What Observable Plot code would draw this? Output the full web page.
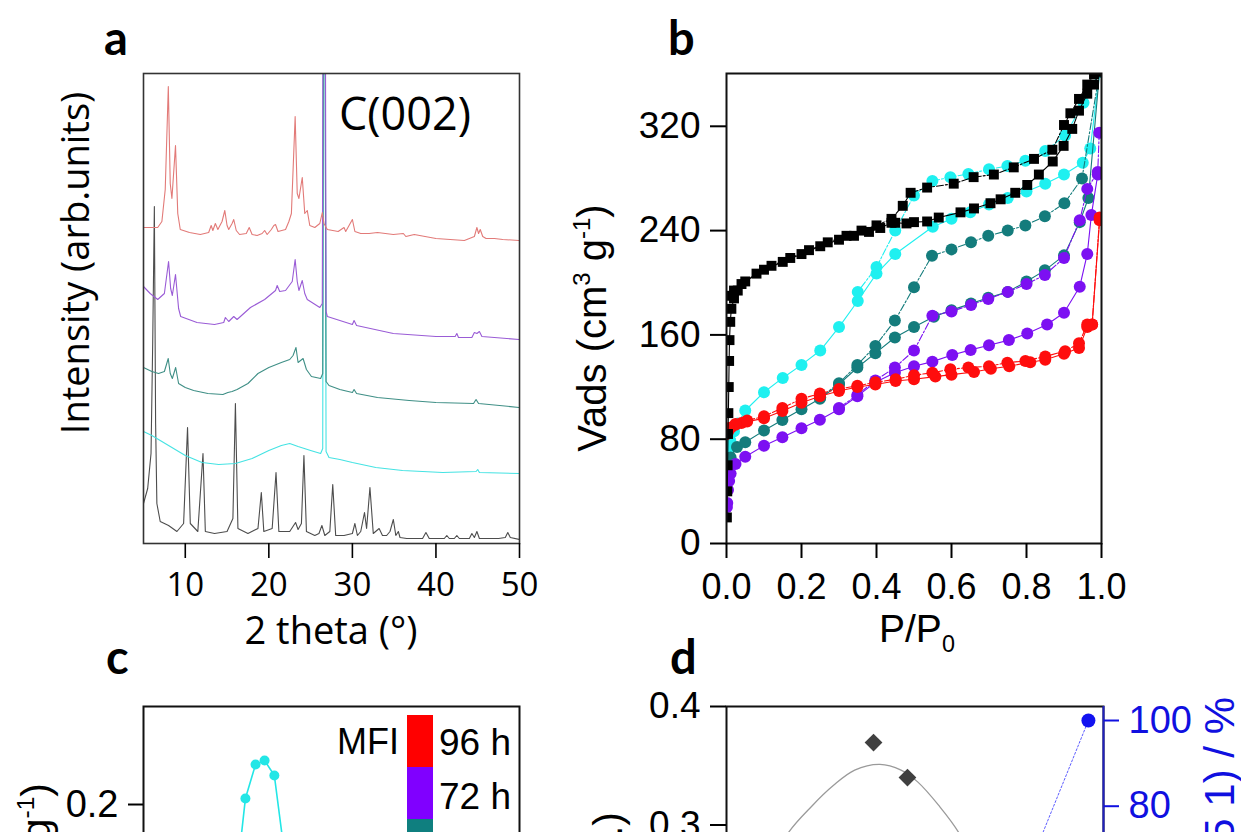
<!DOCTYPE html>
<html><head><meta charset="utf-8">
<script src="https://cdn.jsdelivr.net/npm/d3@7"></script>
<script src="https://cdn.jsdelivr.net/npm/@observablehq/plot@0.6"></script>
<style>
html,body{margin:0;padding:0;background:#fff;width:1241px;height:832px;overflow:hidden;position:relative;}
.panel{position:absolute;}
#overlay{position:absolute;left:0;top:0;}
</style></head><body>
<div id="pa" class="panel" style="left:0;top:0"></div>
<div id="pb" class="panel" style="left:560px;top:0"></div>
<div id="pc" class="panel" style="left:0;top:640px"></div>
<div id="pd" class="panel" style="left:580px;top:640px"></div>
<div id="pd2" class="panel" style="left:580px;top:640px"></div>
<svg id="overlay" width="1241" height="832"></svg>
<script>
// ---------- Panel a : XRD patterns (2 theta, offset intensity) ----------
const xrdBlackX = [5.0,5.5,5.9,6.1,6.3,6.45,6.6,7.0,8.0,9.0,9.8,10.27,10.6,11.5,12.12,12.4,13.5,15.0,15.7,16.0,16.3,17.5,18.7,19.1,19.4,20.4,20.86,21.2,22.5,23.2,23.5,23.9,24.2,24.5,25.5,26.0,26.35,26.7,27.3,27.65,28.0,29.0,30.0,30.3,30.6,31.0,31.45,31.7,32.1,32.5,33.2,33.6,34.1,34.5,34.9,35.2,35.5,35.7,36.5,38.4,38.8,39.2,41.0,41.3,41.6,42.2,42.5,42.8,44.0,44.3,44.6,44.9,45.2,47.5,48.3,48.6,48.9,50.0];
const xrdBlackY = [40,55,90,200,337,120,40,22,18,12,20,116,20,12,90,12,10,12,25,140,15,10,15,51,12,15,71,12,12,21,14,20,88,12,8,10,18,8,12,59,8,8,10,20,8,12,31,15,56,10,15,8,8,12,24,8,12,6,5,5,11,5,5,8,5,5,8,5,5,10,6,12,5,5,6,11,6,4];
const xrdCyanX = [5.0,6,8,10,12,14,16,18,20,21.5,22.5,23.5,25,26.2,26.45,26.55,26.7,26.85,27.2,28.5,30,32.8,36,40.8,44.8,45.0,45.2,50];
const xrdCyanY = [112,108,98,88,81,79,80,85,93,98,100,97,93,90,95,600,600,92,86,84,81,76,73,71,72,74,71,70];
const xrdTealX = [5.0,6.0,6.8,7.5,7.96,8.2,8.45,8.85,9.2,10,11,12.7,14.5,15.1,15.6,16.2,17.5,18.7,20,21.5,22.5,22.9,23.25,23.5,24.1,24.5,25.1,26.2,26.45,26.55,26.7,26.85,27.2,28.5,30.0,30.2,30.5,33,36.8,40,44.5,44.8,45.1,50];
const xrdTealY = [176,172,170,172,185,170,165,176,160,156,153,150,149,151,152,154,160,170,176,181,184,188,196,181,185,174,167,165,170,600,600,162,158,154,151,154,150,146,143,141,140,144,140,136];
const xrdPurpleX = [5.0,5.8,6.7,7.5,8.0,8.25,8.45,8.83,9.2,9.45,11.4,13.5,14.6,14.8,15.2,15.8,16.2,17.8,19.5,20.8,21.0,21.3,22.0,22.8,23.15,23.4,23.6,24.0,24.3,24.6,26.1,26.4,26.5,26.75,26.85,27.0,28.5,30.0,30.2,30.5,34.9,40,42.3,42.5,42.7,44.3,44.6,44.9,45.2,45.5,50];
const xrdPurpleY = [257,250,244,250,282,255,248,269,235,227,221,219,221,226,222,227,224,236,244,253,258,252,253,262,284,262,253,263,250,244,236,240,600,600,232,227,223,219,223,218,210,207,207,210,206,206,211,210,212,207,204];
const xrdRedX = [5.0,6.7,7.2,7.6,7.97,8.2,8.4,8.83,9.1,9.4,10.5,11.8,12.8,13.1,13.3,13.6,13.9,14.4,14.73,15.0,15.2,15.6,15.8,16.1,16.5,17.3,17.65,18.0,18.6,19.2,19.5,19.8,20.3,20.6,20.8,21.1,22.0,22.4,22.7,23.15,23.4,23.6,24.0,24.3,24.6,24.9,25.5,26.1,26.4,26.6,27.0,28.3,29.0,29.2,29.6,30.0,30.3,31,32,33,34.9,36.1,36.4,37.4,40,43.4,44.6,44.9,45.1,45.3,45.6,46.0,47,48,50];
const xrdRedY = [316,316,322,354,457,360,345,398,330,314,311,309,311,318,313,320,314,322,333,318,314,320,324,313,309,310,316,309,308,310,313,309,314,318,319,312,314,322,330,427,350,345,366,330,333,318,316,320,331,320,314,312,316,312,318,324,312,310,310,311,309,310,307,309,305,303,307,316,310,314,307,305,305,304,303];
const xrdColors = {black:"#4d4d4d", cyan:"#45e3e3", teal:"#3f8f86", purple:"#9a5cd6", red:"#e27a78"};
const xTicksA = [10,20,30,40,50];

// ---------- Panel b : N2 isotherms (P/P0, Vads) ----------
const blackAdsP = [0.001,0.002,0.003,0.004,0.005,0.006,0.007,0.008,0.01,0.013,0.02,0.03,0.05,0.1,0.15,0.2,0.25,0.3,0.34,0.38,0.41,0.44,0.45,0.48,0.5,0.535,0.566,0.624,0.66,0.704,0.731,0.77,0.802,0.833,0.87,0.899,0.922,0.94,0.962,0.98,0.995];
const blackAdsV = [20,40,60,84,100,120,140,156,170,180,188,194,201,210,216,222,228,233,236,239,242,246,246,245.5,246.5,247,250,254,257,261,264,269,275,283,293,305,318,332,345,352,362];
const blackDesP = [0.995,0.98,0.962,0.94,0.917,0.9,0.869,0.82,0.766,0.713,0.659,0.606,0.535,0.491,0.47,0.44,0.4,0.36,0.32,0.27,0.22,0.17,0.12,0.08,0.04,0.02,0.012];
const blackDesV = [362,360,352,341,330,321,302,295,288.5,283,281,276,273,269,259,249,244,240,236,231,225,219,213,207,199,194,190];
const cyanAdsP = [0.001,0.003,0.006,0.01,0.02,0.03,0.05,0.1,0.15,0.2,0.25,0.3,0.35,0.4,0.45,0.55,0.6,0.65,0.7,0.75,0.8,0.85,0.9,0.95,0.97,0.995];
const cyanAdsV = [62,68,74,79,86,92,102,116,127,137,148,166,186,207,222,243,249,254,260,265,270,276,283,292,303,362];
const cyanDesP = [0.995,0.952,0.903,0.85,0.797,0.749,0.7,0.645,0.597,0.549,0.5,0.45,0.4,0.35];
const cyanDesV = [362,338,313,301,293.5,289.6,287,283.5,281,278,267,240,212,193];
const tealAdsP = [0.002,0.005,0.011,0.028,0.05,0.1,0.149,0.2,0.249,0.3,0.349,0.397,0.449,0.5,0.553,0.6,0.652,0.698,0.75,0.8,0.849,0.9,0.942,0.965,0.995];
const tealAdsV = [56,62,66,74,77.6,86.6,94.8,103,111,122,135,146,158,166,174,179,184,188.5,193,201,209.5,221,246.5,265,362];
const tealDesP = [0.995,0.948,0.901,0.849,0.797,0.75,0.698,0.652,0.6,0.548,0.5,0.449,0.397,0.349,0.3,0.25];
const tealDesV = [362,280,261,251,244,240,236,231,225.6,220.7,196.6,171,151.5,137,123,112];
const purpleAdsP = [0.001,0.002,0.004,0.007,0.011,0.024,0.05,0.1,0.149,0.2,0.249,0.3,0.349,0.397,0.449,0.5,0.549,0.602,0.651,0.7,0.753,0.802,0.855,0.9,0.942,0.962,0.973,0.99];
const purpleAdsV = [28,31,41,48,53.6,61,66.6,75,81.5,88.4,95,103,113,123.6,131,136,139.5,144.6,148.5,152,156,161,168,177,197,222,252,283];
const purpleDesP = [0.994,0.99,0.962,0.942,0.9,0.849,0.8,0.75,0.698,0.652,0.6,0.549,0.5,0.449,0.397,0.349,0.3];
const purpleDesV = [315,285,272,248,219,206,199,193,187.6,183,178,174.7,148,135,125,114,104];
const redAdsP = [0.001,0.003,0.006,0.012,0.024,0.04,0.055,0.1,0.149,0.2,0.249,0.3,0.349,0.397,0.451,0.5,0.557,0.6,0.66,0.705,0.754,0.81,0.85,0.9,0.94,0.962,0.975,0.995];
const redAdsV = [84,85,87,89,91,92.5,93.5,96,101.6,108,113,117,120,122,124.6,126,128,129.5,131.5,134,136,139,141,145.6,150,166,168,248];
const redDesP = [0.995,0.975,0.962,0.94,0.903,0.85,0.797,0.749,0.7,0.645,0.597,0.549,0.5,0.451,0.397,0.349,0.3,0.249,0.2,0.149,0.1,0.055,0.024,0.006];
const redDesV = [250,168,168,153.6,147.5,143.5,140,138.7,136,135,133.6,131,129,126,123.6,121,118.5,115,111,104,97.6,94.3,91.7,88.4];
const isoColors = {black:"#000000", cyan:"#1ff0f0", teal:"#147c7c", purple:"#7c10f2", red:"#ff0d0d"};
const yTicksB = [0,80,160,240,320];
const xTicksB = [0,0.2,0.4,0.6,0.8,1.0];

// ---------- Panel c : pore size distribution ----------
const psdCyanD = [2.0,2.42,2.71,2.98,3.22,3.48,3.9,4.3];
const psdCyanV = [0.03,0.15,0.2032,0.2215,0.2237,0.2156,0.15,0.04];
const legendLabels = ["96 h","72 h","48 h","24 h"];
const legendColors = ["#ff0000","#8000ff","#0f7f7f","#22eeee"];
const yTicksC = [0,0.1,0.2];

// ---------- Panel d : dual axis ----------
const dDiamondX = [39,48];
const dDiamondY = [0.3696,0.340];
const dFitX = [8,12,16.1,22.8,28.4,34,40.7,46.3,50.7,56.3,61.9,66,70];
const dFitY = [0.22,0.262,0.292,0.3165,0.3335,0.3463,0.3511,0.3463,0.3364,0.3165,0.292,0.262,0.23];
const dBlueX = [72,96];
const dBlueY = [48,100];
const yTicksDL = [0,0.1,0.2,0.3,0.4];
const yTicksDR = [0,20,40,60,80,100];

const pts = (xs, ys) => xs.map((x, i) => ({x, y: ys[i]}));
const f1 = d3.format(".1f");
const SANS = "'Liberation Sans', Arial, sans-serif";

// Panel a
const patterns = [
  {x: xrdBlackX, y: xrdBlackY, c: xrdColors.black},
  {x: xrdCyanX, y: xrdCyanY, c: xrdColors.cyan},
  {x: xrdTealX, y: xrdTealY, c: xrdColors.teal},
  {x: xrdPurpleX, y: xrdPurpleY, c: xrdColors.purple},
  {x: xrdRedX, y: xrdRedY, c: xrdColors.red}
];
document.getElementById("pa").appendChild(Plot.plot({
  width: 560, height: 660, marginLeft: 143, marginRight: 41, marginTop: 73, marginBottom: 117,
  x: {domain: [5, 50]}, y: {domain: [0, 470], axis: null},
  style: {fontFamily: "Open Sans", fontSize: "33px", color: "black", background: "transparent", overflow: "visible"},
  marks: [
    ...patterns.map(p => Plot.line(pts(p.x, p.y), {x: "x", y: "y", stroke: p.c, strokeWidth: 1.1, clip: true})),
    Plot.frame({stroke: "#333", strokeWidth: 1.6}),
    Plot.axisX({ticks: xTicksA, tickSize: 15, tickPadding: 14, strokeWidth: 1.6, fontSize: 33, label: null, tickFormat: d => d})
  ]
}));

// Panel b
const series = [
  {n: "cyan", a: [cyanAdsP, cyanAdsV], d: [cyanDesP, cyanDesV]},
  {n: "teal", a: [tealAdsP, tealAdsV], d: [tealDesP, tealDesV]},
  {n: "purple", a: [purpleAdsP, purpleAdsV], d: [purpleDesP, purpleDesV]},
  {n: "red", a: [redAdsP, redAdsV], d: [redDesP, redDesV]},
  {n: "black", a: [blackAdsP, blackAdsV], d: [blackDesP, blackDesV]}
];
const marksB = [];
for (const s of series) {
  const A = pts(...s.a), D = pts(...s.d), col = isoColors[s.n];
  marksB.push(Plot.line(A, {x: "x", y: "y", stroke: col, strokeWidth: 1.1, clip: true}));
  marksB.push(Plot.line(D, {x: "x", y: "y", stroke: col, strokeWidth: 1.1, strokeDasharray: "7,2,2,2", clip: true}));
  const sym = s.n === "black" ? "square" : "circle";
  const r = s.n === "black" ? 5.6 : 6;
  marksB.push(Plot.dot(A, {x: "x", y: "y", fill: col, r, symbol: sym, stroke: "none", clip: true}));
  marksB.push(Plot.dot(D, {x: "x", y: "y", fill: col, r, symbol: sym, stroke: "none", clip: true}));
}
document.getElementById("pb").appendChild(Plot.plot({
  width: 681, height: 660, marginLeft: 166, marginRight: 140, marginTop: 73, marginBottom: 117,
  x: {domain: [0, 1]}, y: {domain: [0, 360.5]},
  style: {fontFamily: SANS, fontSize: "35px", color: "black", background: "transparent", overflow: "visible"},
  marks: [
    ...marksB,
    Plot.frame({stroke: "#111", strokeWidth: 2}),
    Plot.axisX({ticks: xTicksB, tickSize: 15, tickPadding: 15, strokeWidth: 2, fontSize: 36, label: null, tickFormat: f1}),
    Plot.axisY({ticks: yTicksB, tickSize: 16, tickPadding: 10, strokeWidth: 2, fontSize: 37, label: null, tickFormat: d => d})
  ]
}));

// Panel c
document.getElementById("pc").appendChild(Plot.plot({
  width: 560, height: 600, marginLeft: 143, marginRight: 41, marginTop: 66, marginBottom: 64,
  x: {domain: [0, 10], axis: null}, y: {domain: [0, 0.2527]},
  style: {fontFamily: SANS, fontSize: "38px", color: "black", background: "transparent", overflow: "visible"},
  marks: [
    Plot.line(pts(psdCyanD, psdCyanV), {x: "x", y: "y", stroke: "#22e6e6", strokeWidth: 1.6, clip: true}),
    Plot.dot(pts(psdCyanD, psdCyanV), {x: "x", y: "y", fill: "#22e6e6", r: 5, clip: true}),
    Plot.frame({stroke: "#111", strokeWidth: 2}),
    Plot.axisY({ticks: yTicksC, tickSize: 15, tickPadding: 10, strokeWidth: 2, fontSize: 38, label: null, tickFormat: f1})
  ]
}));

// Panel d (left axis)
document.getElementById("pd").appendChild(Plot.plot({
  width: 661, height: 600, marginLeft: 146, marginRight: 138, marginTop: 66, marginBottom: 60,
  x: {domain: [0, 100], axis: null}, y: {domain: [0, 0.4]},
  style: {fontFamily: SANS, fontSize: "37px", color: "black", background: "transparent", overflow: "visible"},
  marks: [
    Plot.line(pts(dFitX, dFitY), {x: "x", y: "y", stroke: "#9a9a9a", strokeWidth: 1.3, curve: "catmull-rom", clip: true}),
    Plot.dot(pts(dDiamondX, dDiamondY), {x: "x", y: "y", fill: "#404040", r: 8, symbol: "diamond2", clip: true}),
    Plot.frame({stroke: "#111", strokeWidth: 2}),
    Plot.axisY({ticks: yTicksDL, tickSize: 16, tickPadding: 10, strokeWidth: 2, fontSize: 37, label: null, tickFormat: f1})
  ]
}));
// Panel d (right axis, blue)
document.getElementById("pd2").appendChild(Plot.plot({
  width: 661, height: 600, marginLeft: 146, marginRight: 138, marginTop: 66, marginBottom: 60,
  x: {domain: [0, 100], axis: null}, y: {domain: [-7.35, 103.27], axis: null},
  style: {fontFamily: SANS, fontSize: "38px", color: "#1010e0", background: "transparent", overflow: "visible"},
  marks: [
    Plot.line(pts(dBlueX, dBlueY), {x: "x", y: "y", stroke: "#5c5cff", strokeWidth: 1, strokeDasharray: "2,2", clip: true}),
    Plot.dot(pts(dBlueX, dBlueY), {x: "x", y: "y", fill: "#1212f0", r: 7, clip: true}),
    Plot.ruleX([100], {stroke: "#2020c0", strokeWidth: 2}),
    Plot.axisY({anchor: "right", ticks: yTicksDR, tickSize: 15, tickPadding: 10, strokeWidth: 2, fontSize: 38, label: null, fill: "#1010e0", stroke: "#1010e0", tickFormat: d => d})
  ]
}));

// ---------- Overlay text ----------
const svg = d3.select("#overlay");
function txt(x, y, s, o = {}) {
  const t = svg.append("text").attr("x", x).attr("y", y)
    .attr("font-family", o.family || SANS)
    .attr("font-size", o.size || 38)
    .attr("font-weight", o.weight || "normal")
    .attr("fill", o.fill || "#000")
    .attr("text-anchor", o.anchor || "start");
  if (o.rotate) t.attr("transform", `rotate(-90 ${x} ${y})`);
  if (Array.isArray(s)) {
    for (const part of s) {
      const ts = t.append("tspan").text(part.t);
      if (part.sup) ts.attr("font-size", (o.size || 38) * 0.6).attr("baseline-shift", "65%");
      if (part.sub) ts.attr("font-size", (o.size || 38) * 0.6).attr("baseline-shift", "-45%");
    }
  } else t.text(s);
  return t;
}
const bold = {family: "Lato", size: 47, weight: "bold"};
txt(104, 55, "a", bold);
txt(668, 55, "b", bold);
txt(106, 674, "c", bold);
txt(670, 674, "d", bold);
txt(339, 130, "C(002)", {family: "Open Sans", size: 45});
txt(89, 263, "Intensity (arb.units)", {family: "Open Sans", size: 38, rotate: true, anchor: "middle"});
txt(331, 644, "2 theta (°)", {family: "Open Sans", size: 38, anchor: "middle"});
txt(606, 328, [{t: "Vads (cm"}, {t: "3", sup: true}, {t: " g"}, {t: "-1", sup: true}, {t: ")"}], {size: 40, rotate: true, anchor: "middle"});
txt(879, 642, [{t: "P/P"}, {t: "0", sub: true}], {size: 39});
txt(50, 783, [{t: "dV/dlog(D) (cm"}, {t: "3", sup: true}, {t: " g"}, {t: "-1", sup: true}, {t: ")"}], {size: 41, rotate: true, anchor: "end"});
txt(622, 812, "Vmeso/Vtotal (a.u.)", {size: 41, rotate: true, anchor: "end"});
txt(1234, 697, "Yield (C5 1) / %", {size: 42, rotate: true, anchor: "end", fill: "#1010e0"});
// legend of panel c
txt(337, 754, "MFI", {size: 36});
legendLabels.forEach((l, i) => {
  svg.append("rect").attr("x", 407).attr("y", 715 + i * 52).attr("width", 26).attr("height", 52).attr("fill", legendColors[i]);
  txt(439, 755 + i * 54, l, {size: 37});
});
</script>
</body></html>
